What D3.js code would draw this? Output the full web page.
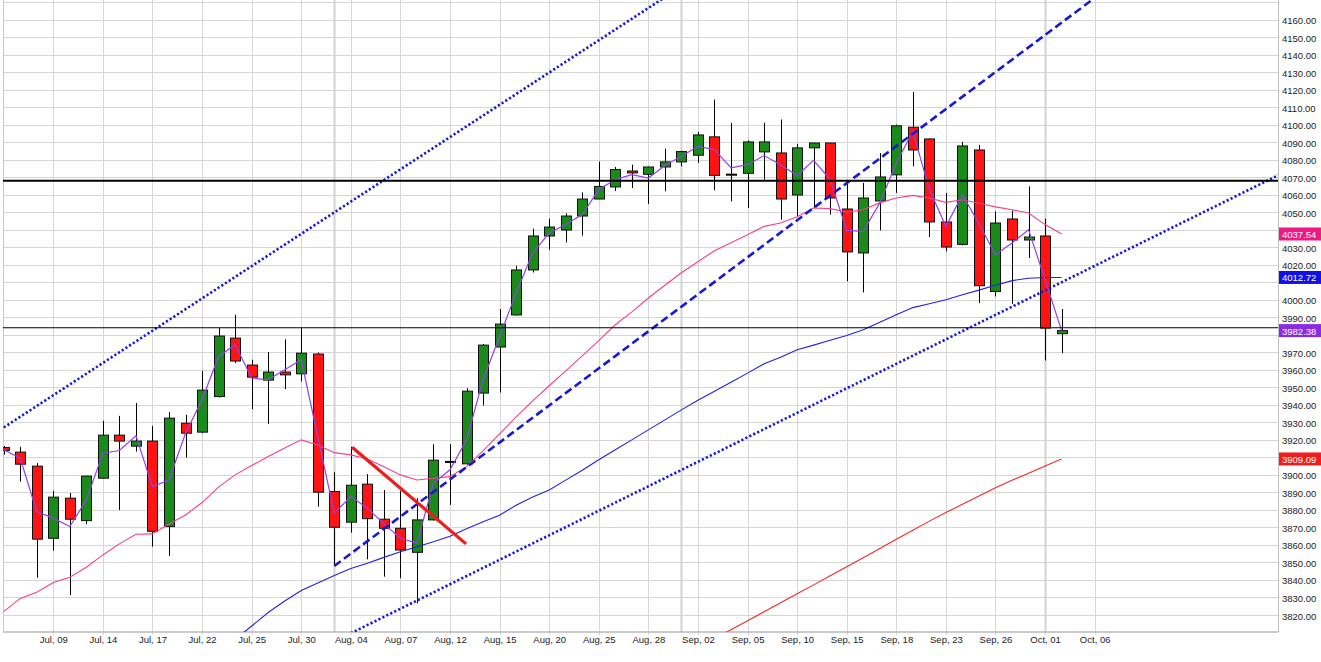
<!DOCTYPE html>
<html>
<head>
<meta charset="utf-8">
<script src="https://cdn.jsdelivr.net/npm/d3@7"></script>
<style>
  body { margin: 0; background: #fff; }
  text { font-family: "Liberation Sans", Arial, sans-serif; }
</style>
</head>
<body>
<div id="chart"></div>
<script>
// daily candles, index 0 = Jul 04 ... index 64 = Oct 02
const open = [
  3915.6, 3913.0, 3905.0, 3863.8, 3886.7, 3873.9, 3898.1, 3922.7, 3916.4, 3919.3,
  3870.5, 3929.5, 3924.4, 3944.7, 3978.1, 3962.7, 3954.1, 3958.7, 3957.7, 3969.0,
  3890.5, 3873.0, 3894.7, 3874.7, 3869.5, 3855.8, 3874.3, 3907.4, 3906.3, 3946.7,
  3973.0, 3991.3, 4017.0, 4036.4, 4039.8, 4047.8, 4057.5, 4064.4, 4073.5, 4071.6,
  4075.8, 4078.7, 4082.5, 4093.0, 4071.4, 4072.2, 4084.4, 4083.8, 4059.8, 4086.7,
  4089.5, 4051.8, 4026.7, 4056.4, 4071.3, 4098.5, 4091.8, 4044.4, 4031.6, 4085.5,
  4004.7, 4046.1, 4034.1, 4036.4, 3980.6
];
const high = [
  3916.5, 3916.0, 3906.7, 3890.9, 3889.7, 3899.5, 3930.9, 3933.7, 3941.0, 3928.0,
  3935.8, 3934.3, 3959.4, 3983.8, 3991.4, 3965.7, 3970.1, 3977.5, 3983.8, 3969.9,
  3901.5, 3916.0, 3900.4, 3891.4, 3891.0, 3886.7, 3917.5, 3917.5, 3949.5, 3974.7,
  3994.7, 4019.4, 4040.6, 4046.3, 4049.3, 4061.3, 4078.9, 4075.8, 4077.1, 4076.0,
  4086.3, 4085.0, 4095.8, 4114.3, 4101.0, 4091.0, 4101.1, 4102.9, 4089.0, 4089.6,
  4089.6, 4067.6, 4066.7, 4083.8, 4100.0, 4118.7, 4092.0, 4061.0, 4090.1, 4088.4,
  4050.5, 4050.9, 4064.7, 4046.3, 3994.7
];
const low = [
  3911.5, 3896.2, 3841.3, 3856.7, 3831.4, 3871.8, 3898.0, 3880.0, 3913.3, 3859.0,
  3853.7, 3909.9, 3923.8, 3944.2, 3963.8, 3937.5, 3929.0, 3949.0, 3953.3, 3881.9,
  3848.0, 3867.0, 3851.8, 3841.9, 3841.0, 3826.7, 3874.0, 3882.9, 3906.0, 3939.6,
  3947.0, 3991.0, 4015.6, 4028.6, 4032.7, 4036.6, 4057.5, 4062.1, 4063.8, 4054.7,
  4061.9, 4076.2, 4078.1, 4062.5, 4056.2, 4052.4, 4068.6, 4045.7, 4047.6, 4052.4,
  4048.6, 4010.5, 4004.2, 4039.6, 4061.0, 4076.2, 4035.8, 4027.6, 4031.0, 3998.1,
  4001.9, 3997.7, 4023.8, 3965.3, 3969.5
];
const close = [
  3913.9, 3906.1, 3863.3, 3887.3, 3874.7, 3899.3, 3922.7, 3919.3, 3919.3, 3867.8,
  3932.4, 3923.8, 3948.4, 3979.3, 3965.0, 3955.8, 3958.7, 3957.1, 3969.5, 3890.1,
  3870.1, 3894.1, 3875.0, 3869.5, 3857.1, 3874.3, 3908.4, 3907.4, 3947.8, 3974.1,
  3986.1, 4017.0, 4036.4, 4041.5, 4047.8, 4057.5, 4064.7, 4074.3, 4072.4, 4075.8,
  4078.7, 4084.6, 4094.1, 4071.0, 4071.4, 4090.1, 4090.1, 4057.5, 4086.7, 4089.5,
  4058.1, 4027.3, 4058.1, 4070.1, 4099.3, 4085.5, 4044.4, 4030.1, 4087.8, 4008.0,
  4043.8, 4034.1, 4035.8, 3983.8, 3982.38
];

// thin purple line through the candles
const fastLine = [
  3914.3, 3909.5, 3879.0, 3875.3, 3870.5, 3885.7, 3912.4, 3913.9, 3922.3, 3893.3,
  3897.1, 3923.8, 3942.9, 3967.6, 3974.3, 3955.3, 3954.3, 3960.0, 3965.7, 3921.9,
  3878.1, 3887.6, 3881.0, 3872.0, 3863.8, 3861.0, 3895.3, 3902.9, 3920.0, 3954.3,
  3979.0, 4003.8, 4026.7, 4038.1, 4042.9, 4048.6, 4062.9, 4068.6, 4071.4, 4069.5,
  4076.6, 4081.9, 4087.6, 4085.7, 4075.3, 4077.1, 4082.3, 4077.1, 4070.9, 4079.6,
  4068.6, 4039.6, 4039.0, 4055.3, 4078.1, 4096.2, 4062.9, 4041.9, 4060.0, 4043.4,
  4025.7, 4032.4, 4040.0, 4011.4, 3982.38
];
const maPink = [
  3821.9, 3829.5, 3833.0, 3838.5, 3841.5, 3847.3, 3854.3, 3860.6, 3866.1, 3866.3,
  3872.0, 3877.1, 3884.2, 3893.0, 3900.0, 3905.3, 3910.5, 3915.3, 3920.0, 3917.1,
  3912.7, 3911.4, 3909.1, 3904.7, 3900.0, 3897.1, 3898.1, 3899.0, 3904.7, 3913.7,
  3923.4, 3933.1, 3942.3, 3950.9, 3959.4, 3968.0, 3976.6, 3985.7, 3993.1, 4001.0,
  4008.3, 4015.4, 4021.7, 4028.0, 4032.6, 4037.1, 4041.9, 4043.8, 4047.4, 4052.4,
  4052.0, 4050.1, 4051.4, 4055.3, 4058.1, 4059.6, 4058.1, 4055.6, 4057.1, 4055.1,
  4053.0, 4051.4, 4049.5, 4042.9, 4037.54
];
const maBlue = [
  null, null, null, null, null, null, null, null, null, null,
  null, null, null, null, 3806.0, 3813.7, 3821.4, 3828.0, 3834.0, 3838.3,
  3842.6, 3846.6, 3849.5, 3852.9, 3856.1, 3859.0, 3861.8, 3864.9, 3869.3, 3873.3,
  3877.0, 3882.7, 3887.4, 3891.4, 3897.0, 3902.6, 3908.6, 3914.3, 3920.0, 3925.7,
  3931.4, 3937.1, 3942.6, 3947.7, 3952.9, 3958.1, 3963.4, 3967.1, 3971.4, 3974.1,
  3976.9, 3979.6, 3982.9, 3987.1, 3991.4, 3995.5, 3997.7, 4000.0, 4002.9, 4005.5,
  4008.3, 4010.9, 4012.3, 4012.7, 4012.72
];
const maRed = [
  null, null, null, null, null, null, null, null, null, null,
  null, null, null, null, null, null, null, null, null, null,
  null, null, null, null, null, null, null, null, null, null,
  null, null, null, null, null, null, null, null, null, null,
  null, null, null, 3806.5, 3811.6, 3816.7, 3821.8, 3827.0, 3832.1, 3837.2,
  3842.4, 3847.6, 3852.7, 3858.0, 3863.2, 3868.4, 3873.6, 3878.5, 3883.2, 3887.9,
  3892.7, 3896.9, 3901.0, 3905.1, 3909.09
];

const tickLabels = [
  "Jul, 09", "Jul, 14", "Jul, 17", "Jul, 22", "Jul, 25", "Jul, 30",
  "Aug, 04", "Aug, 07", "Aug, 12", "Aug, 15", "Aug, 20", "Aug, 25", "Aug, 28",
  "Sep, 02", "Sep, 05", "Sep, 10", "Sep, 15", "Sep, 18", "Sep, 23", "Sep, 26",
  "Oct, 01", "Oct, 06"
];
const tickIndex = tickLabels.map((d, i) => 3 + i * 3);
const monthStarts = [20, 41, 63];

// drawn studies: [index, price] end points
const trendUpperDotted = [[-0.22, 3925.7], [40, 4172.7]];
const trendLowerDotted = [[21, 3809.6], [77.2, 4071.5]];
const trendDashed = [[20, 3848.0], [66, 4172.3]];
const trendRed = [[21.08, 3915.8], [27.97, 3860.6]];
const hLines = [4068.0, 3984.0];

const priceTags = [
  { value: 4037.54, color: "#f21884" },
  { value: 4012.72, color: "#1010e8" },
  { value: 3982.38, color: "#8a2be2" },
  { value: 3909.09, color: "#f31c1c" }
];

const W = 1321, H = 662;
const plot = { left: 3, right: 1278, top: 0, bottom: 632 };

const svg = d3.select("#chart").append("svg")
  .attr("width", W).attr("height", H);

const x = d3.scaleLinear().domain([0, 64]).range([3.7, 1061.6]);
const y = d3.scaleLinear().domain([3820, 4160]).range([615, 19.5]);

svg.append("defs").append("clipPath").attr("id", "plotclip")
  .append("rect")
  .attr("x", plot.left).attr("y", plot.top)
  .attr("width", plot.right - plot.left).attr("height", plot.bottom - plot.top);

// grid
const grid = svg.append("g");
grid.selectAll("line.h")
  .data(d3.range(3820, 4171, 10))
  .join("line")
  .attr("x1", plot.left).attr("x2", plot.right)
  .attr("y1", (d) => Math.round(y(d)) + 0.5).attr("y2", (d) => Math.round(y(d)) + 0.5)
  .attr("stroke", "#d6d6d6");
grid.selectAll("line.v")
  .data(tickIndex)
  .join("line")
  .attr("x1", (d) => Math.round(x(d)) + 0.5).attr("x2", (d) => Math.round(x(d)) + 0.5)
  .attr("y1", plot.top).attr("y2", plot.bottom + 3)
  .attr("stroke", "#d6d6d6");
svg.append("g").selectAll("line")
  .data(monthStarts)
  .join("line")
  .attr("x1", (d) => Math.round(x(d)) + 0.5).attr("x2", (d) => Math.round(x(d)) + 0.5)
  .attr("y1", plot.top).attr("y2", plot.bottom)
  .attr("stroke", "#d2d2d2").attr("stroke-width", 2);

// frame
svg.append("line")
  .attr("x1", plot.left).attr("x2", plot.right)
  .attr("y1", plot.bottom).attr("y2", plot.bottom)
  .attr("stroke", "#b8b8b8").attr("stroke-width", 1.5);
svg.append("line")
  .attr("x1", plot.right + 0.5).attr("x2", plot.right + 0.5)
  .attr("y1", plot.top).attr("y2", plot.bottom)
  .attr("stroke", "#c0c0c0");
svg.append("line")
  .attr("x1", plot.left + 0.5).attr("x2", plot.left + 0.5)
  .attr("y1", plot.top).attr("y2", plot.bottom)
  .attr("stroke", "#c8c8c8");

const area = svg.append("g").attr("clip-path", "url(#plotclip)");

// candles
const candles = open.map((o, i) => ({ i, o, h: high[i], l: low[i], c: close[i] }));
const bodyW = 10;

const cg = area.append("g");
cg.selectAll("line.wick")
  .data(candles)
  .join("line")
  .attr("x1", (d) => Math.round(x(d.i)) + 0.5).attr("x2", (d) => Math.round(x(d.i)) + 0.5)
  .attr("y1", (d) => y(d.h)).attr("y2", (d) => y(d.l))
  .attr("stroke", "#000");
cg.selectAll("rect.body")
  .data(candles.filter((d) => d.o !== d.c))
  .join("rect")
  .attr("x", (d) => Math.round(x(d.i)) + 0.5 - bodyW / 2)
  .attr("y", (d) => y(Math.max(d.o, d.c)))
  .attr("width", bodyW)
  .attr("height", (d) => Math.max(1, y(Math.min(d.o, d.c)) - y(Math.max(d.o, d.c))))
  .attr("fill", (d) => (d.c > d.o ? "#1a8a1a" : "#ff1414"))
  .attr("stroke", "#111").attr("stroke-width", 1);
cg.selectAll("line.doji")
  .data(candles.filter((d) => d.o === d.c))
  .join("line")
  .attr("x1", (d) => x(d.i) - bodyW / 2).attr("x2", (d) => x(d.i) + bodyW / 2 + 1)
  .attr("y1", (d) => y(d.c)).attr("y2", (d) => y(d.c))
  .attr("stroke", "#000").attr("stroke-width", 2);

// studies
const line = d3.line()
  .defined((d) => d != null)
  .x((d, i) => x(i))
  .y((d) => y(d));

area.append("path").attr("d", line(maPink))
  .attr("fill", "none").attr("stroke", "#f0428f").attr("stroke-width", 1.1);
area.append("path").attr("d", line(maBlue))
  .attr("fill", "none").attr("stroke", "#2323d8").attr("stroke-width", 1.1);
area.append("path").attr("d", line(maRed))
  .attr("fill", "none").attr("stroke", "#f22a2a").attr("stroke-width", 1.1);
area.append("path").attr("d", line(fastLine))
  .attr("fill", "none").attr("stroke", "#9340f0").attr("stroke-width", 1.2);

const seg = d3.line().x((d) => x(d[0])).y((d) => y(d[1]));
area.append("path").attr("d", seg(trendUpperDotted))
  .attr("fill", "none").attr("stroke", "#1a1acc").attr("stroke-width", 2.6)
  .attr("stroke-dasharray", "2.2,2.2");
area.append("path").attr("d", seg(trendLowerDotted))
  .attr("fill", "none").attr("stroke", "#1a1acc").attr("stroke-width", 2.6)
  .attr("stroke-dasharray", "2.2,2.2");
area.append("path").attr("d", seg(trendDashed))
  .attr("fill", "none").attr("stroke", "#1a1acc").attr("stroke-width", 2.6)
  .attr("stroke-dasharray", "8,4");
area.append("path").attr("d", seg(trendRed))
  .attr("fill", "none").attr("stroke", "#f01c1c").attr("stroke-width", 3.2);

area.selectAll("line.hl")
  .data(hLines)
  .join("line")
  .attr("x1", plot.left).attr("x2", plot.right)
  .attr("y1", (d) => y(d)).attr("y2", (d) => y(d))
  .attr("stroke", "#000")
  .attr("stroke-width", (d, i) => (i === 0 ? 2 : 1.2));

// right price axis (labels hidden behind a value tag are left out, as in the original)
const axisValues = d3.range(3820, 4161, 10)
  .filter((v) => priceTags.every((t) => Math.abs(y(v) - y(t.value)) >= 11));
svg.append("g").selectAll("text")
  .data(axisValues)
  .join("text")
  .attr("x", 1282).attr("y", (d) => y(d) + 1)
  .attr("dominant-baseline", "central")
  .attr("font-size", 9.5).attr("fill", "#222")
  .text((d) => d.toFixed(2));

// date axis
const xAxis = d3.axisBottom(x)
  .tickValues(tickIndex)
  .tickFormat((d, i) => tickLabels[i])
  .tickSize(0)
  .tickPadding(4);
const xg = svg.append("g").attr("transform", `translate(0,${plot.bottom})`).call(xAxis);
xg.select(".domain").remove();
xg.selectAll("text")
  .attr("font-family", "Liberation Sans, Arial, sans-serif")
  .attr("font-size", 9.5).attr("fill", "#222");

// last value tags
const tags = svg.append("g").selectAll("g")
  .data(priceTags)
  .join("g")
  .attr("transform", (d) => `translate(1279,${y(d.value)})`);
tags.append("rect")
  .attr("x", 0).attr("y", -6.5).attr("width", 42).attr("height", 13)
  .attr("fill", (d) => d.color);
tags.append("text")
  .attr("x", 3).attr("y", 0.5)
  .attr("dominant-baseline", "central")
  .attr("font-size", 9.5).attr("fill", "#fff")
  .text((d) => d.value.toFixed(2));
</script>
</body>
</html>
